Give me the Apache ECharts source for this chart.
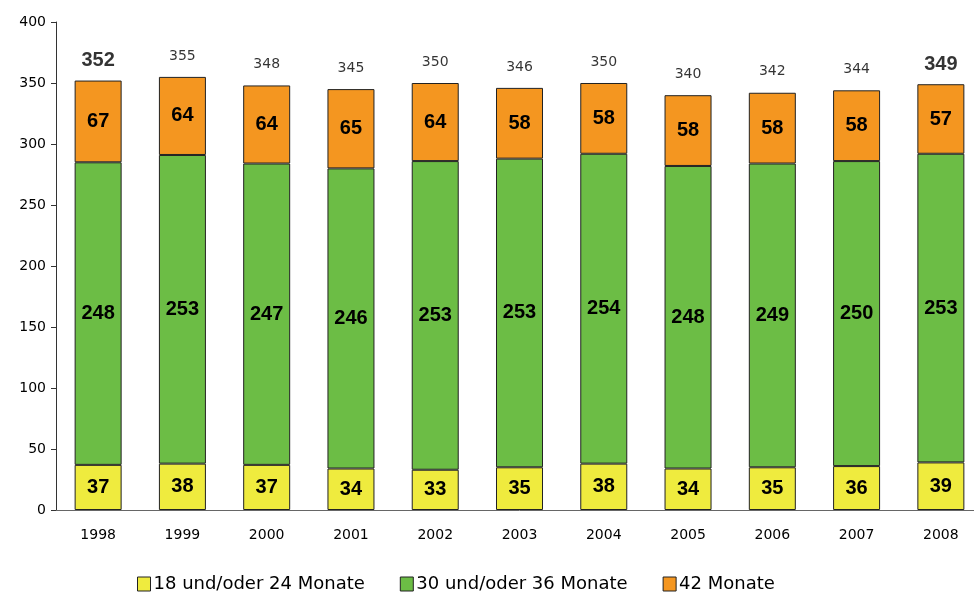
<!DOCTYPE html>
<html><head><meta charset="utf-8">
<script src="https://cdn.jsdelivr.net/npm/echarts@6/dist/echarts.min.js"></script>
<style>html,body{margin:0;padding:0;background:#fff;overflow:hidden;width:974px;height:592px}#c{width:990px;height:592px}</style>
</head><body><div id="c"></div>
<script>
const years = ['1998','1999','2000','2001','2002','2003','2004','2005','2006','2007','2008'];
const m18_24 = [37,38,37,34,33,35,38,34,35,36,39];
const m30_36 = [248,253,247,246,253,253,254,248,249,250,253];
const m42 = [67,64,64,65,64,58,58,58,58,58,57];
const totals = [352,355,348,345,350,346,350,340,342,344,349];
const yTicks = [0,50,100,150,200,250,300,350,400];

const F = 'Liberation Sans, Arial, sans-serif';
const FD = 'DejaVu Sans, sans-serif';
const inLabel = {show:true, position:'inside', color:'#000', fontFamily:F, fontWeight:'bold', fontSize:20};
const itemBase = {borderColor:'#222', borderWidth:1};

const chart = echarts.init(document.getElementById('c'));
chart.setOption({
  animation:false,
  grid:{left:56, top:22, width:927, height:488, containLabel:false},
  legend:{
    top:570, left:132, itemWidth:13, itemHeight:14, itemGap:35, icon:'rect',
    textStyle:{fontFamily:FD, fontSize:18, color:'#000', padding:[0,0,0,-2]},
    itemStyle:{borderColor:'#222', borderWidth:1},
    data:['18 und/oder 24 Monate','30 und/oder 36 Monate','42 Monate']
  },
  xAxis:{
    type:'category', data:years,
    axisLine:{lineStyle:{color:'#666', width:1}},
    axisTick:{show:false},
    axisLabel:{fontFamily:FD, fontSize:14, color:'#000', margin:18}
  },
  yAxis:{
    type:'value', min:0, max:400, interval:50,
    axisLine:{show:true, lineStyle:{color:'#333'}},
    axisTick:{show:true, inside:false, length:5, lineStyle:{color:'#333'}},
    splitLine:{show:false},
    axisLabel:{fontFamily:FD, fontSize:14, color:'#000', margin:10,
      formatter:v=> yTicks.includes(v) ? String(v) : ''}
  },
  series:[
    {name:'18 und/oder 24 Monate', type:'bar', stack:'a', barWidth:47, data:m18_24,
     itemStyle:Object.assign({color:'#EFEB3E'}, itemBase), label:inLabel},
    {name:'30 und/oder 36 Monate', type:'bar', stack:'a', data:m30_36,
     itemStyle:Object.assign({color:'#6CBD45'}, itemBase), label:inLabel},
    {name:'42 Monate', type:'bar', stack:'a', data:m42,
     itemStyle:Object.assign({color:'#F49620'}, itemBase), label:inLabel},
    {name:'Gesamt', type:'scatter', symbolSize:0, data:totals.map((v,i)=>{
        const big = (i===0 || i===totals.length-1);
        return {value:v, label:{color:'#000', fontFamily: big?F:FD, fontSize: big?20:14, fontWeight: big?'bold':'normal', distance: big?10:14}};
      }),
     label:{show:true, position:'top', color:'#000', formatter:p=>String(totals[p.dataIndex])},
     tooltip:{show:false}, silent:true}
  ]
});
</script></body></html>
